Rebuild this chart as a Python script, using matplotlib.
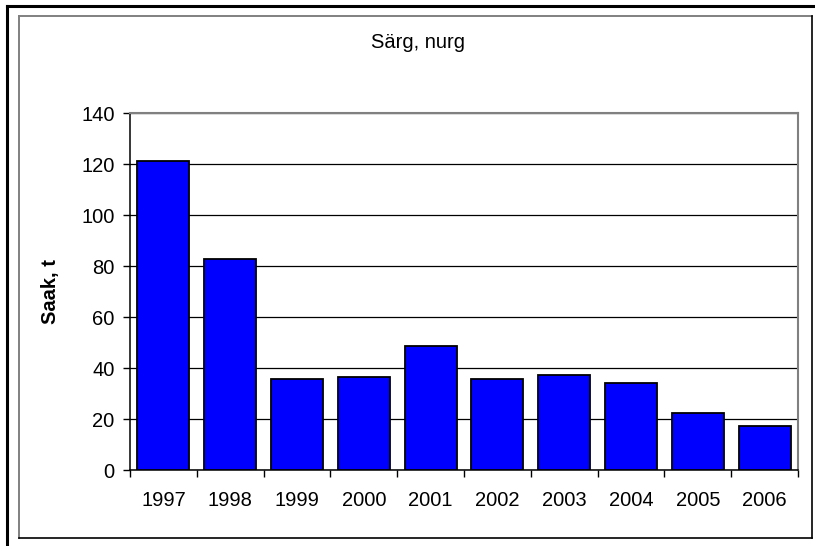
import matplotlib.pyplot as plt
from matplotlib.lines import Line2D

# Andmed
aastad = ['1997', '1998', '1999', '2000', '2001', '2002', '2003', '2004', '2005', '2006']
saak = [121.3, 82.8, 35.7, 36.4, 48.8, 35.7, 37.2, 34.3, 22.5, 17.4]

plt.rcParams['font.family'] = ['Liberation Sans', 'DejaVu Sans']

W, H = 815, 546
fig = plt.figure(figsize=(W / 100, H / 100), dpi=100)

# raamid ümber joonise
def fx(px):
    return px / W

def fy(py):
    return 1 - py / H

fig.add_artist(Line2D([fx(7), fx(7)], [0, fy(6)], color='black', lw=2.2))
fig.add_artist(Line2D([fx(7), 1], [fy(6), fy(6)], color='black', lw=2.2))
fig.add_artist(Line2D([fx(19), fx(19)], [fy(538), fy(16)], color='#808080', lw=1.4))
fig.add_artist(Line2D([fx(19), fx(812)], [fy(16), fy(16)], color='#808080', lw=1.4))
fig.add_artist(Line2D([fx(812), fx(812)], [fy(16), fy(538)], color='black', lw=1.2))
fig.add_artist(Line2D([fx(19), fx(812)], [fy(538), fy(538)], color='black', lw=1.2))

ax = fig.add_axes([fx(130), fy(470), fx(798) - fx(130), fy(113.3) - fy(470)])

x = range(len(aastad))
ax.bar(x, saak, width=0.78, color='#0000FF', edgecolor='black', linewidth=1.3, zorder=3)

ax.set_xlim(-0.5, len(aastad) - 0.5)
ax.set_ylim(0, 140)
ax.set_yticks(range(0, 141, 20))
ax.yaxis.grid(True, color='black', linewidth=0.9, zorder=0)
ax.set_axisbelow(True)

fs = 14.5
ax.set_xticks(list(x))
ax.set_xticklabels(aastad)
ax.set_xticks([i - 0.5 for i in range(len(aastad) + 1)], minor=True)
ax.tick_params(axis='x', which='major', length=0, pad=15, labelsize=fs)
ax.tick_params(axis='x', which='minor', length=5, width=1, color='black')
ax.tick_params(axis='y', length=5, width=1, pad=6, labelsize=fs)

ax.spines['top'].set_color('#808080')
ax.spines['right'].set_color('#808080')
ax.spines['top'].set_linewidth(1.5)
ax.spines['right'].set_linewidth(1.5)
ax.spines['left'].set_linewidth(1.1)
ax.spines['bottom'].set_linewidth(1.1)

ax.set_ylabel('Saak, t', fontsize=fs, fontweight='bold', labelpad=15)
fig.text(fx(418), fy(43), 'Särg, nurg', ha='center', va='center', fontsize=fs)

plt.savefig('out.png', dpi=100)
